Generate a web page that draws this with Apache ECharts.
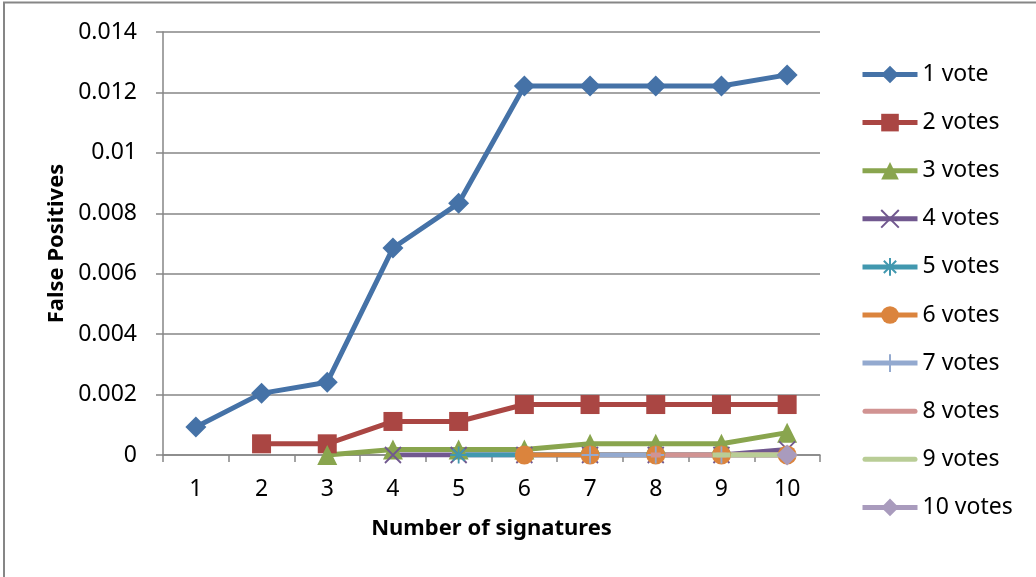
<!DOCTYPE html>
<html>
<head>
<meta charset="utf-8">
<script src="https://cdn.jsdelivr.net/npm/echarts@6/dist/echarts.min.js"></script>
<style>
  html, body { margin: 0; padding: 0; background: #fff; }
  #chart { width: 1036px; height: 577px; }
</style>
</head>
<body>
<div id="chart"></div>
<script>
// Number of signatures on the x axis
const categories = ['1', '2', '3', '4', '5', '6', '7', '8', '9', '10'];

// False-positive rates per voting threshold (null = not defined for that signature count)
const vote1  = [0.00093, 0.00204, 0.00241, 0.00685, 0.00833, 0.01221, 0.01221, 0.01221, 0.01221, 0.01258];
const vote2  = [null, 0.00037, 0.00037, 0.00111, 0.00111, 0.00167, 0.00167, 0.00167, 0.00167, 0.00167];
const vote3  = [null, null, 0, 0.000185, 0.000185, 0.000185, 0.00037, 0.00037, 0.00037, 0.00074];
const vote4  = [null, null, null, 0, 0, 0, 0, 0, 0, 0.000185];
const vote5  = [null, null, null, null, 0, 0, 0, 0, 0, 0];
const vote6  = [null, null, null, null, null, 0, 0, 0, 0, 0];
const vote7  = [null, null, null, null, null, null, 0, 0, 0, 0];
const vote8  = [null, null, null, null, null, null, null, 0, 0, 0];
const vote9  = [null, null, null, null, null, null, null, null, 0, 0];
const vote10 = [null, null, null, null, null, null, null, null, null, 0];

const seriesNames = ['1 vote', '2 votes', '3 votes', '4 votes', '5 votes',
                     '6 votes', '7 votes', '8 votes', '9 votes', '10 votes'];
const seriesData = [vote1, vote2, vote3, vote4, vote5, vote6, vote7, vote8, vote9, vote10];

const colors = ['#4572A7', '#AA4643', '#89A54E', '#71588F', '#4198AF',
                '#DB843D', '#93A9CF', '#D19392', '#B9CD96', '#A99BBD'];

const FONT = '"Noto Sans", "Liberation Sans", sans-serif';

// Marker shapes; stroked shapes are drawn via borderWidth
const X_PATH = 'path://M0,0L10,10M10,0L0,10';
const STAR_PATH = 'path://M5,0L5,10M0,5L10,5M1.5,1.5L8.5,8.5M8.5,1.5L1.5,8.5';
const PLUS_PATH = 'path://M5,0L5,10M0,5L10,5';
// Plain rounded bar used as legend icon for the dash-marker series
const BAR_ICON = 'path://M2.5,0L52.5,0A2.5,2.5,0,0,1,52.5,5L2.5,5A2.5,2.5,0,0,1,2.5,0Z';

const markers = [
  { symbol: 'diamond', size: 21, stroke: false },
  { symbol: 'rect', size: 19, stroke: false },
  { symbol: 'triangle', size: 20, stroke: false },
  { symbol: X_PATH, size: 16, stroke: true },
  { symbol: STAR_PATH, size: 17, stroke: true },
  { symbol: 'circle', size: 19, stroke: false },
  { symbol: PLUS_PATH, size: 17, stroke: true },
  { symbol: 'rect', size: [10, 5], stroke: false },
  { symbol: 'rect', size: [18, 5], stroke: false },
  { symbol: 'diamond', size: 21, stroke: false }
];

const series = seriesNames.map((name, i) => {
  const m = markers[i];
  return {
    name: name,
    type: 'line',
    data: seriesData[i],
    symbol: m.symbol,
    symbolSize: m.size,
    showAllSymbol: true,
    connectNulls: false,
    lineStyle: { color: colors[i], width: 5 },
    itemStyle: m.stroke
      ? { color: colors[i], borderColor: colors[i], borderWidth: 1.8 }
      : { color: colors[i], borderWidth: 0 },
    emphasis: { disabled: true },
    animation: false
  };
});

const legendData = seriesNames.map((name, i) =>
  (i === 7 || i === 8) ? { name: name, icon: BAR_ICON } : { name: name });

const chart = echarts.init(document.getElementById('chart'));
chart.setOption({
  backgroundColor: '#ffffff',
  color: colors,
  animation: false,
  graphic: [{
    type: 'rect',
    shape: { x: 4, y: 2.5, width: 1100, height: 700 },
    style: { fill: 'none', stroke: '#868686', lineWidth: 2 },
    silent: true
  }],
  grid: { left: 163, right: 216, top: 32, bottom: 122 },
  legend: {
    orient: 'vertical',
    left: 855,
    top: 58,
    itemWidth: 55,
    itemHeight: 22,
    itemGap: 25.1,
    lineStyle: { width: 5 },
    textStyle: { fontFamily: FONT, fontSize: 23, color: '#000' },
    data: legendData
  },
  xAxis: {
    type: 'category',
    data: categories,
    boundaryGap: true,
    name: 'Number of signatures',
    nameLocation: 'middle',
    nameGap: 63,
    nameTextStyle: { fontFamily: FONT, fontSize: 22, fontWeight: 'bold', color: '#000' },
    axisLine: { lineStyle: { color: '#868686', width: 1.5 } },
    axisTick: { show: true, length: 7, alignWithLabel: false, lineStyle: { color: '#868686', width: 1.5 } },
    axisLabel: { fontFamily: FONT, fontSize: 23, color: '#000', margin: 23 }
  },
  yAxis: {
    type: 'value',
    min: 0,
    max: 0.014,
    interval: 0.002,
    name: 'False Positives',
    nameLocation: 'middle',
    nameGap: 95,
    nameTextStyle: { fontFamily: FONT, fontSize: 22, fontWeight: 'bold', color: '#000' },
    axisLine: { show: true, lineStyle: { color: '#868686', width: 1.5 } },
    axisTick: { show: true, inside: false, length: 7, lineStyle: { color: '#868686', width: 1.5 } },
    axisLabel: {
      fontFamily: FONT, fontSize: 23, color: '#000', margin: 26,
      formatter: v => (v === 0 ? '0' : String(parseFloat(v.toFixed(3))))
    },
    splitLine: { show: true, lineStyle: { color: '#868686', width: 1.5 } }
  },
  series: series
});
</script>
</body>
</html>
